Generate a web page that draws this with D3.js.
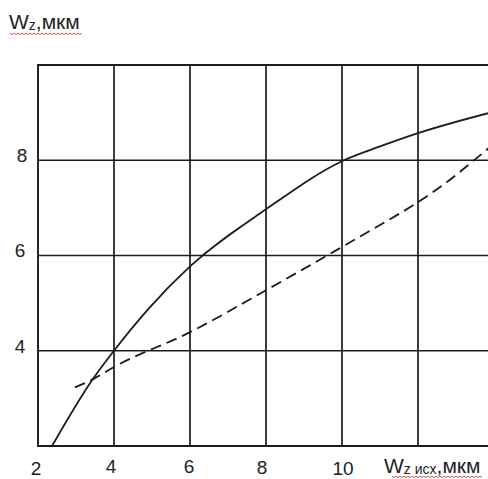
<!DOCTYPE html>
<html><head><meta charset="utf-8">
<script src="https://cdn.jsdelivr.net/npm/d3@7"></script>
<style>html,body{margin:0;padding:0;background:#fff;overflow:hidden}svg{display:block}</style>
</head><body>
<script>
// Data
const xTicks = [2, 4, 6, 8, 10];
const yTicks = [4, 6, 8];
const xGrid = [4, 6, 8, 10, 12];
const yGrid = [4, 6, 8];
const solidX = [2.37, 3.44, 4.0, 4.93, 6.0, 8.0, 10.0, 11.0, 12.0, 13.9];
const solidY = [2.0, 3.4, 4.0, 4.9, 5.77, 6.97, 7.98, 8.29, 8.57, 9.0];
const dashX = [2.97, 3.44, 4.0, 6.0, 8.0, 10.0, 11.0, 12.0, 12.84, 13.55, 13.9];
const dashY = [3.23, 3.4, 3.66, 4.39, 5.27, 6.18, 6.64, 7.12, 7.59, 8.05, 8.28];

const W = 488, H = 479;
const svg = d3.select("body").append("svg").attr("width", W).attr("height", H);
const x = d3.scaleLinear().domain([2, 14]).range([38, 494]);
const y = d3.scaleLinear().domain([2, 10]).range([446, 65]);
const ink = "#1c1c1c";
const font = "Arial, 'Liberation Sans', sans-serif";
const g = svg.append("g");

// grid
g.selectAll(".vg").data(xGrid).enter().append("line")
  .attr("x1", d => x(d)).attr("x2", d => x(d)).attr("y1", y(10)).attr("y2", y(2))
  .attr("stroke", ink).attr("stroke-width", 1.7);
g.selectAll(".hg").data(yGrid).enter().append("line")
  .attr("x1", x(2)).attr("x2", W).attr("y1", d => y(d)).attr("y2", d => y(d))
  .attr("stroke", ink).attr("stroke-width", 1.7);
// frame (right side lies outside the view)
g.append("path").attr("d", `M${W},${y(10)}H${x(2)}V${y(2)}H${W}`)
  .attr("fill", "none").attr("stroke", ink).attr("stroke-width", 1.9);

// curves
const line = d3.line().x(d => x(d[0])).y(d => y(d[1])).curve(d3.curveMonotoneX);
g.append("path").datum(solidX.map((v, i) => [v, solidY[i]])).attr("d", line)
  .attr("fill", "none").attr("stroke", ink).attr("stroke-width", 1.8);
g.append("path").datum(dashX.map((v, i) => [v, dashY[i]])).attr("d", line)
  .attr("fill", "none").attr("stroke", ink).attr("stroke-width", 1.8).attr("stroke-dasharray", "11,6");

// x tick labels
const xLabPos = {2: [36, 475], 4: [111, 473], 6: [189, 473], 8: [262, 474], 10: [343, 475]};
svg.selectAll(".xt").data(xTicks).enter().append("text")
  .attr("x", d => xLabPos[d][0]).attr("y", d => xLabPos[d][1])
  .attr("text-anchor", "middle").attr("font-family", font).attr("font-size", 19).attr("fill", "#222")
  .text(d => d);
// y tick labels
const yLabPos = {8: [22, 162], 6: [20, 257], 4: [20, 353]};
svg.selectAll(".yt").data(yTicks).enter().append("text")
  .attr("x", d => yLabPos[d][0]).attr("y", d => yLabPos[d][1])
  .attr("text-anchor", "middle").attr("font-family", font).attr("font-size", 19).attr("fill", "#222")
  .text(d => d);

// axis titles
const t1 = svg.append("text").attr("x", 9).attr("y", 29).attr("font-family", font).attr("font-size", 21).attr("fill", "#222");
t1.append("tspan").text("W");
t1.append("tspan").attr("font-size", 14).attr("dy", 1).text("z");
t1.append("tspan").attr("dy", -1).text(",мкм");
const t2 = svg.append("text").attr("x", 384).attr("y", 473).attr("font-family", font).attr("font-size", 21).attr("fill", "#222");
t2.append("tspan").text("W");
t2.append("tspan").attr("font-size", 14).attr("dy", 1).text("z исх");
t2.append("tspan").attr("dy", -1).text(",мкм");

// spell-check wavy underlines
function wavy(x0, x1, yy) {
  let d = `M${x0},${yy}`;
  for (let xx = x0, k = 0; xx < x1; xx += 2, k++) d += `L${xx + 2},${yy + (k % 2 ? 0 : 1.6)}`;
  return d;
}
svg.append("path").attr("d", wavy(10, 82, 33)).attr("fill", "none").attr("stroke", "#d04040").attr("stroke-width", 0.9);
svg.append("path").attr("d", wavy(392, 482, 476)).attr("fill", "none").attr("stroke", "#d04040").attr("stroke-width", 0.9);
</script>
</body></html>
